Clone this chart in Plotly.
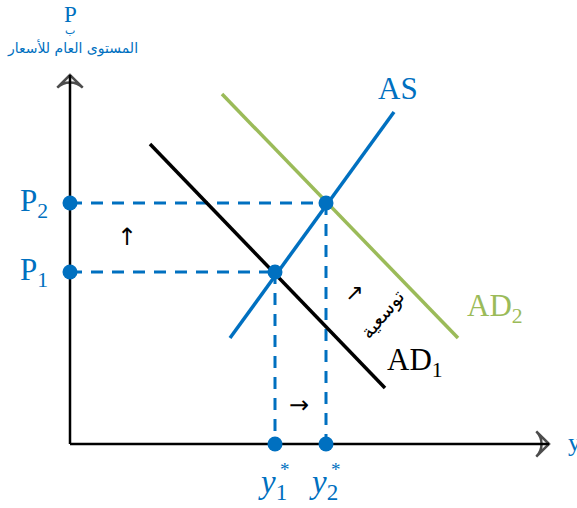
import plotly.graph_objects as go

# Coordinates: origin at the corner of the axes, y upward
BLUE = "#0070C0"
GREEN = "#9BBB59"

# curves (x, y) endpoints
as_x = [160, 324]
as_y = [106, 332]
ad1_x = [80, 315]
ad1_y = [300, 56]
ad2_x = [152, 388]
ad2_y = [350, 106]

# equilibrium points
eq_x = [205, 256]
eq_y = [172, 241]
price_labels = ["P<sub>1</sub>", "P<sub>2</sub>"]
output_labels = ["<i>y</i><sub>1</sub>", "<i>y</i><sub>2</sub>"]

# axes
yaxis_x = [0, 0]
yaxis_y = [0, 369]
xaxis_x = [0, 479]
xaxis_y = [0, 0]

fig = go.Figure()

serif = "Liberation Serif"

# axes with open arrowheads
for xs, ys in [(yaxis_x, yaxis_y), (xaxis_x, xaxis_y)]:
    fig.add_trace(go.Scatter(
        x=xs, y=ys, mode="lines+markers",
        line=dict(color="black", width=2.5),
        marker=dict(symbol=["line-ns", "arrow-wide-open"], size=[0, 18],
                    angleref="previous", color="black",
                    line=dict(color="black", width=2.5)),
        hoverinfo="skip"))

# dashed guides
for px, py in zip(eq_x, eq_y):
    fig.add_trace(go.Scatter(x=[0, px], y=[py, py], mode="lines",
                             line=dict(color=BLUE, width=3, dash="12px,9px"),
                             hoverinfo="skip"))
    fig.add_trace(go.Scatter(x=[px, px], y=[py, 0], mode="lines",
                             line=dict(color=BLUE, width=3, dash="12px,9px"),
                             hoverinfo="skip"))

# curves
fig.add_trace(go.Scatter(x=ad2_x, y=ad2_y, mode="lines",
                         line=dict(color=GREEN, width=3.5), hoverinfo="skip"))
fig.add_trace(go.Scatter(x=ad1_x, y=ad1_y, mode="lines",
                         line=dict(color="black", width=3.5), hoverinfo="skip"))
fig.add_trace(go.Scatter(x=as_x, y=as_y, mode="lines",
                         line=dict(color=BLUE, width=3.5), hoverinfo="skip"))

# dots
dot_x = [0, 0] + eq_x + eq_x
dot_y = eq_y + eq_y + [0, 0]
fig.add_trace(go.Scatter(x=dot_x, y=dot_y, mode="markers",
                         marker=dict(color=BLUE, size=15), hoverinfo="skip"))

ann = []
for lab, py in zip(price_labels, eq_y):
    ann.append(dict(x=-36, y=py, text=lab, font=dict(family=serif, size=31, color=BLUE)))
for lab, px in zip(output_labels, eq_x):
    ann.append(dict(x=px - 3, y=-40, text=lab, font=dict(family=serif, size=33, color=BLUE)))
    ann.append(dict(x=px + 10, y=-25, text="*", font=dict(family=serif, size=19, color=BLUE)))

ann += [
    dict(x=328, y=356, text="AS", font=dict(family=serif, size=31, color=BLUE)),
    dict(x=425, y=136, text="AD<sub>2</sub>", font=dict(family=serif, size=31, color=GREEN)),
    dict(x=345, y=82, text="AD<sub>1</sub>", font=dict(family=serif, size=31, color="black")),
    dict(x=504, y=2, text="y", font=dict(family=serif, size=26, color=BLUE)),
    dict(x=57, y=207, text="↑", font=dict(family="DejaVu Sans", size=24, color="black")),
    dict(x=229, y=39, text="→", font=dict(family="DejaVu Sans", size=24, color="black")),
    dict(x=284, y=152, text="↗", font=dict(family="DejaVu Sans", size=22, color="black")),
    dict(x=312, y=130, text="توسعية", textangle=-50,
         font=dict(family="DejaVu Sans", size=19, color="black")),
    dict(x=0, y=430, text="P", font=dict(family=serif, size=23, color=BLUE)),
    dict(x=0, y=414, text="ب", font=dict(family="DejaVu Sans", size=11, color=BLUE)),
    dict(x=2, y=396, text="المستوى العام للأسعار", font=dict(family="DejaVu Sans", size=14, color=BLUE)),
]
for a in ann:
    a.update(xref="x", yref="y", showarrow=False)

fig.update_layout(
    width=577, height=508,
    margin=dict(l=0, r=0, t=0, b=0),
    paper_bgcolor="white", plot_bgcolor="white",
    showlegend=False,
    xaxis=dict(range=[-70, 507], visible=False, fixedrange=True),
    yaxis=dict(range=[-64, 444], visible=False, fixedrange=True),
    annotations=ann,
)

fig.write_html("out.html", config={"displayModeBar": False},
               post_script="document.body.style.margin='0';document.body.style.overflow='hidden';")
